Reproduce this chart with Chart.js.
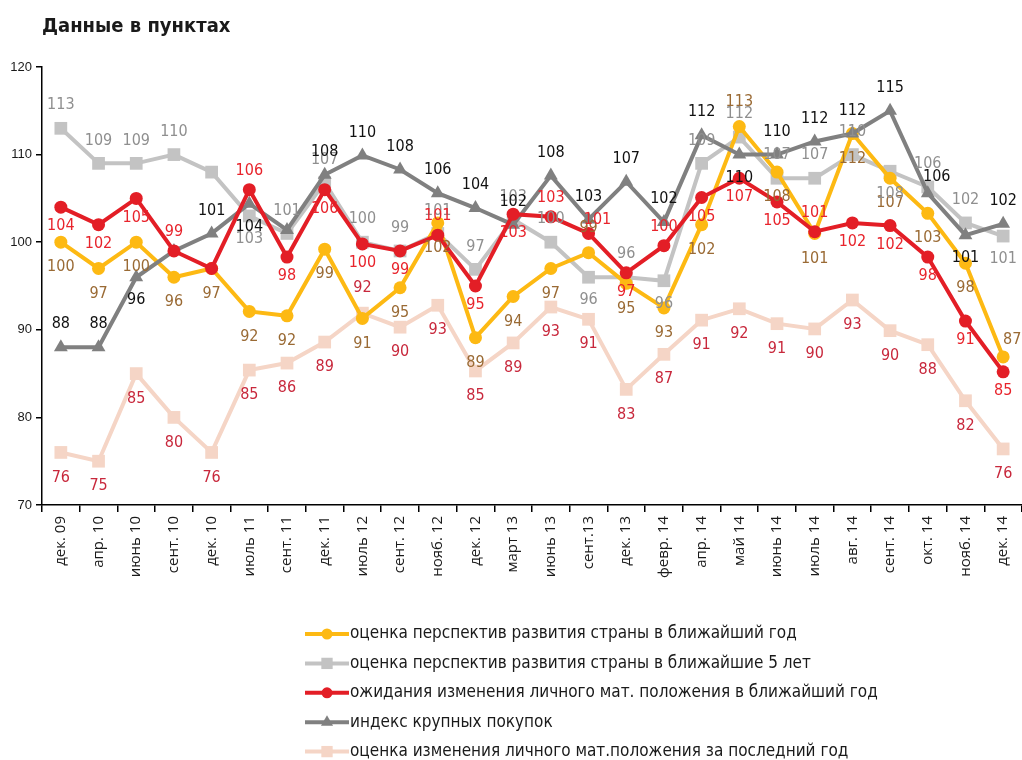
<!DOCTYPE html>
<html>
<head>
<meta charset="utf-8">
<script src="https://cdn.jsdelivr.net/npm/chart.js@4"></script>
<style>
  html, body { margin: 0; padding: 0; background: #fff; }
  #wrap { width: 1022px; height: 760px; position: relative; }
</style>
</head>
<body>
<div id="wrap"><canvas id="myChart" width="1022" height="760"></canvas></div>
<script>
"use strict";

// данные
const categories = ["дек. 09", "апр. 10", "июнь 10", "сент. 10", "дек. 10", "июль 11", "сент. 11", "дек. 11",
    "июль 12", "сент. 12", "нояб. 12", "дек. 12", "март 13", "июнь 13", "сент.13", "дек. 13", "февр. 14",
    "апр. 14", "май 14", "июнь 14", "июль 14", "авг. 14", "сент. 14", "окт. 14", "нояб. 14", "дек. 14"];

const perspYear = [100, 97, 100, 96, 97, 92.1, 91.6, 99.2, 91.3, 94.8, 102.2, 89.1, 93.8, 97, 98.8, 95.3, 92.5,
    102, 113.2, 108, 101, 112.4, 107.3, 103.3, 97.6, 86.9];
const persp5Years = [113, 109, 109, 110, 108, 103, 101, 106.8, 100, 99, 101, 96.9, 102.6, 100, 96, 96, 95.6,
    109, 112, 107.3, 107.3, 110, 108.1, 106.3, 102.2, 100.7];
const expectYear = [104, 102, 105, 99, 97, 106, 98.3, 106, 99.8, 99, 100.8, 95, 103.2, 102.9, 101, 96.5, 99.6,
    105.1, 107.3, 104.6, 101.2, 102.2, 101.9, 98.3, 91, 85.2];
const purchases = [88, 88, 96, 99, 101, 104.4, 101.4, 107.7, 109.9, 108.3, 105.6, 103.9, 102, 107.6, 102.6, 106.9,
    102.3, 112.2, 110, 110, 111.5, 112.4, 115, 105.6, 100.8, 102.1];
const pastYear = [76, 75, 85, 80, 76, 85.4, 86.2, 88.6, 91.9, 90.3, 92.8, 85.3, 88.5, 92.6, 91.2, 83.2, 87.2,
    91.1, 92.4, 90.7, 90.1, 93.4, 89.9, 88.3, 81.9, 76.4];

const yMin = 70, yMax = 120, yStep = 10;

// где подписи: a - сверху, b - снизу, r - справа, n - нет
const posPerspYear = "bbbbbbbbbbbbbbabbbabbbbbbr";
const posPersp5 = "aaaanbaaaaaaaababaaaaabaab";
const posExpect = "bbbanabbbbabbarbabbbabbbbb";
const posPurch = "aabnabnaaaaaaaaaaabaaaarba";
const posPast = "bbbbbbbbabbbbbbbbbbbbbbbbb";

const condensed = "'DejaVu Sans Condensed', sans-serif";

// подписи значений
const valueLabels = {
    id: "valueLabels",
    afterDatasetsDraw(chart) {
        const ctx = chart.ctx;
        ctx.save();
        ctx.font = "16px " + condensed;
        ctx.textBaseline = "middle";
        ctx.textAlign = "center";
        chart.data.datasets.forEach((ds, di) => {
            const meta = chart.getDatasetMeta(di);
            meta.data.forEach((pt, i) => {
                const p = ds.labelPos[i];
                if (p === "n") return;
                let x = pt.x, y = pt.y;
                if (p === "a") y -= ds.labelGap;
                else if (p === "b") y += ds.labelGap;
                else if (p === "r") { x += 9; y -= ds.labelGap * 0.7; }
                ctx.fillStyle = ds.labelColor;
                ctx.fillText(String(Math.round(ds.data[i])), x, y);
            });
        });
        ctx.restore();
    }
};

// заголовок и легенда
const titleAndLegend = {
    id: "titleAndLegend",
    afterDraw(chart) {
        const ctx = chart.ctx;
        ctx.save();
        ctx.fillStyle = "#1a1a1a";
        ctx.font = "600 20px " + condensed;
        ctx.textBaseline = "middle";
        ctx.textAlign = "left";
        ctx.fillText("Данные в пунктах", 42, 27);

        ctx.font = "17px " + condensed;
        chart.data.datasets.forEach((ds, i) => {
            const y = 634 + i * 29.4;
            ctx.strokeStyle = ds.borderColor;
            ctx.lineWidth = 4;
            ctx.beginPath();
            ctx.moveTo(305, y);
            ctx.lineTo(349, y);
            ctx.stroke();
            ctx.fillStyle = ds.borderColor;
            ctx.strokeStyle = ds.borderColor;
            Chart.helpers.drawPoint(ctx, {
                pointStyle: ds.pointStyle,
                radius: ds.pointRadius - 1,
                borderWidth: 0
            }, 327, y);
            ctx.fillStyle = "#1a1a1a";
            ctx.fillText(ds.label, 350, y);
        });
        ctx.restore();
    }
};

function series(label, data, color, style, radius, labelColor, pos, gap, order) {
    return {
        label: label,
        data: data,
        borderColor: color,
        backgroundColor: color,
        borderWidth: 4,
        pointStyle: style,
        pointRadius: radius,
        pointHoverRadius: radius,
        pointBorderWidth: 0,
        pointBackgroundColor: color,
        tension: 0,
        labelColor: labelColor,
        labelPos: pos,
        labelGap: gap,
        order: order
    };
}

const ctx = document.getElementById("myChart");
new Chart(ctx, {
    type: "line",
    data: {
        labels: categories,
        datasets: [
            series("оценка перспектив развития страны в ближайший год", perspYear, "#fdb913", "circle", 6.5, "#9a6a34", posPerspYear, 25, 3),
            series("оценка перспектив развития страны в ближайшие 5 лет", persp5Years, "#c3c3c3", "rect", 9, "#8f8f8f", posPersp5, 23, 4),
            series("ожидания изменения личного мат. положения в ближайший год", expectYear, "#e31e26", "circle", 6.5, "#e8242c", posExpect, 19, 1),
            series("индекс крупных покупок", purchases, "#808080", "triangle", 8, "#111111", posPurch, 23, 2),
            series("оценка изменения личного мат.положения за последний год", pastYear, "#f5d5c6", "rect", 9, "#c8283c", posPast, 25, 5)
        ]
    },
    options: {
        responsive: false,
        animation: false,
        events: [],
        layout: { autoPadding: false, padding: { top: 67, right: 0, bottom: 155, left: 0 } },
        scales: {
            x: {
                offset: true,
                grid: { offset: true, drawOnChartArea: false, drawTicks: true, tickLength: 7, color: "#000", lineWidth: 1.5 },
                border: { color: "#000", width: 1.5 },
                ticks: {
                    autoSkip: false, maxRotation: 90, minRotation: 90, padding: 4,
                    color: "#1a1a1a", font: { family: "'Open Sans', sans-serif", size: 15 }
                },
                afterFit(scale) {
                    scale.height = 100;
                    scale.paddingRight = 0;
                    scale.paddingLeft = 0;
                }
            },
            y: {
                min: yMin,
                max: yMax,
                grid: { drawOnChartArea: false, drawTicks: true, tickLength: 6, color: "#000", lineWidth: 1.5 },
                border: { color: "#000", width: 1.5 },
                ticks: {
                    stepSize: yStep, padding: 4,
                    color: "#1a1a1a", font: { family: "'Liberation Sans', sans-serif", size: 13 }
                },
                afterFit(scale) { scale.width = 42; }
            }
        },
        plugins: {
            legend: { display: false },
            tooltip: { enabled: false },
            title: { display: false }
        }
    },
    plugins: [valueLabels, titleAndLegend]
});
</script>
</body>
</html>
